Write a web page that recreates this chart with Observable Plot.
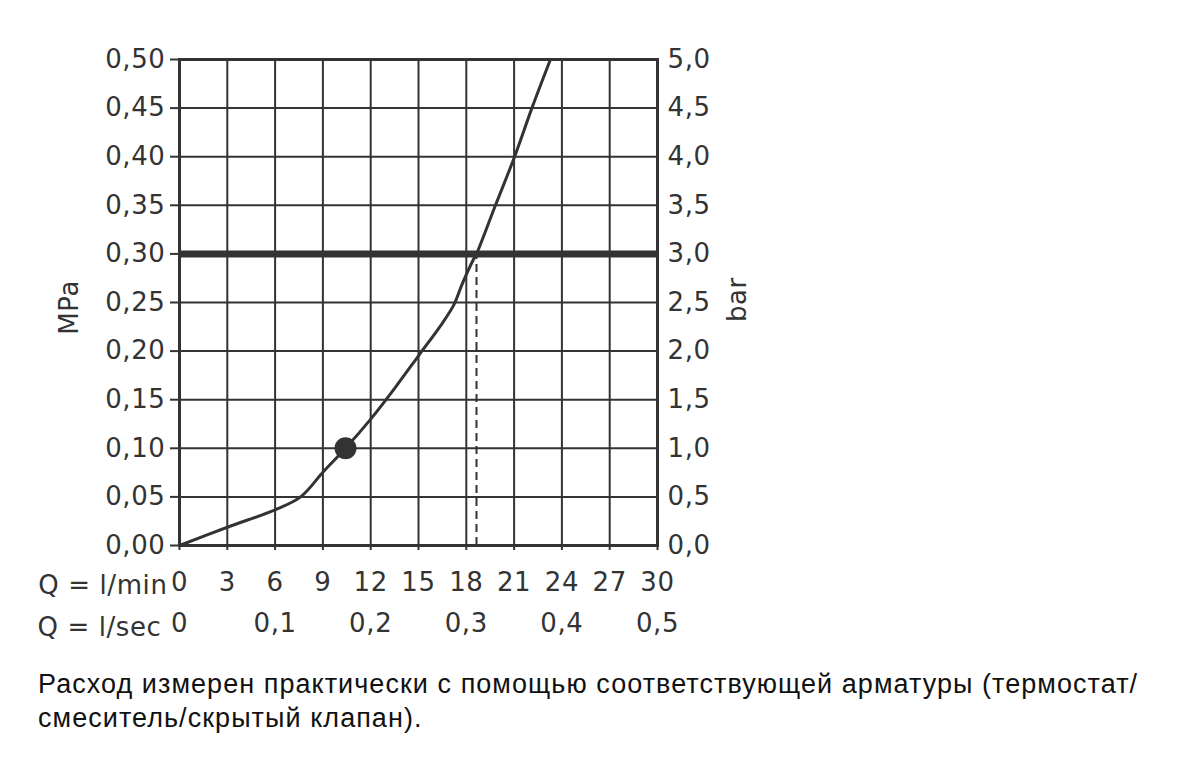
<!DOCTYPE html>
<html>
<head>
<meta charset="utf-8">
<script src="https://cdn.jsdelivr.net/npm/d3@7"></script>
<script src="https://cdn.jsdelivr.net/npm/@observablehq/plot@0.6"></script>
<style>
  html, body { margin: 0; padding: 0; background: #fff; }
  #chart svg { display: block; }
  #caption { margin: 0 0 0 38px; font-family: "Liberation Sans", Arial, sans-serif; font-size: 27px; letter-spacing: 1.05px; line-height: 34px; color: #111; white-space: nowrap; }
</style>
</head>
<body>
<div id="chart"></div>
<div id="caption">Расход измерен практически с помощью соответствующей арматуры (термостат/<br>смеситель/скрытый клапан).</div>
<script>
// flow Q (l/min) vs pressure (MPa)
const flowLmin = [0, 3.0, 6.0, 7.6, 9.0, 10.42, 12.0, 13.56, 15.08, 16.38, 17.2, 17.74, 18.47, 18.64, 19.83, 21.03, 22.14, 23.28];
const pressureMPa = [0, 0.0188, 0.0367, 0.05, 0.0754, 0.10, 0.130, 0.163, 0.197, 0.226, 0.247, 0.269, 0.295, 0.30, 0.35, 0.40, 0.451, 0.50];
const markerPoint = {q: 10.42, p: 0.10};
const limitPressure = 0.30;
const limitFlow = 18.64;
const yTicks = [0, 0.05, 0.10, 0.15, 0.20, 0.25, 0.30, 0.35, 0.40, 0.45, 0.50];
const xTicksMin = [0, 3, 6, 9, 12, 15, 18, 21, 24, 27, 30];
const xTicksSec = [0, 6, 12, 18, 24, 30];
const xLabelMin = "Q = l/min";
const xLabelSec = "Q = l/sec";
const yLabelLeft = "MPa";
const yLabelRight = "bar";

const curve = flowLmin.map((q, i) => ({q, p: pressureMPa[i]}));
const ink = "#333";
const txt = "#333";
const fs = 26;
const comma = s => s.replace(".", ",");

const chart = Plot.plot({
  width: 1200,
  height: 667,
  marginLeft: 179,
  marginRight: 543,
  marginTop: 59,
  marginBottom: 122,
  style: {fontFamily: "DejaVu Sans, sans-serif", fontSize: "26px", color: ink, letterSpacing: "0.6px"},
  x: {domain: [0, 30]},
  y: {domain: [0, 0.5]},
  marks: [
    Plot.gridX(xTicksMin, {stroke: ink, strokeOpacity: 1, strokeWidth: 2}),
    Plot.gridY(yTicks, {stroke: ink, strokeOpacity: 1, strokeWidth: 2}),
    Plot.frame({stroke: ink, strokeWidth: 3}),
    Plot.axisY(yTicks, {anchor: "left", tickSize: 9, tickPadding: 5, strokeWidth: 2, stroke: ink, fill: txt, fontSize: fs, tickFormat: d => comma(d.toFixed(2)), label: null}),
    Plot.axisY(yTicks, {anchor: "right", tickSize: 0, tickPadding: 10, fill: txt, fontSize: fs, tickFormat: d => comma((d * 10).toFixed(1)), label: null}),
    Plot.axisX(xTicksMin, {anchor: "bottom", tickSize: 5, tickPadding: 22, strokeWidth: 2, stroke: ink, fill: txt, fontSize: fs, tickFormat: d => String(d), label: null}),
    Plot.axisX(xTicksSec, {anchor: "bottom", tickSize: 0, tickPadding: 68, fill: txt, fontSize: fs, tickFormat: d => d === 0 ? "0" : comma((d / 60).toFixed(1)), label: null}),
    Plot.text([xLabelMin], {x: 0, y: 0, dx: -12, dy: 40, textAnchor: "end", fill: txt, fontSize: fs}),
    Plot.text([xLabelSec], {x: 0, y: 0, dx: -18, dy: 82, textAnchor: "end", fill: txt, fontSize: fs}),
    Plot.text([yLabelLeft], {x: 0, y: 0.245, dx: -110, rotate: -90, fill: txt, fontSize: fs}),
    Plot.text([yLabelRight], {x: 30, y: 0.253, dx: 80, rotate: -90, fill: txt, fontSize: fs}),
    Plot.ruleY([limitPressure], {x1: 0, x2: 30, stroke: ink, strokeWidth: 7}),
    Plot.ruleX([limitFlow], {y1: 0, y2: limitPressure, stroke: ink, strokeWidth: 2, strokeDasharray: "8,5"}),
    Plot.line(curve, {x: "q", y: "p", stroke: ink, strokeWidth: 3, curve: "catmull-rom"}),
    Plot.dot([markerPoint], {x: "q", y: "p", r: 11, fill: ink, stroke: "none"})
  ]
});
document.getElementById("chart").append(chart);
</script>
</body>
</html>
